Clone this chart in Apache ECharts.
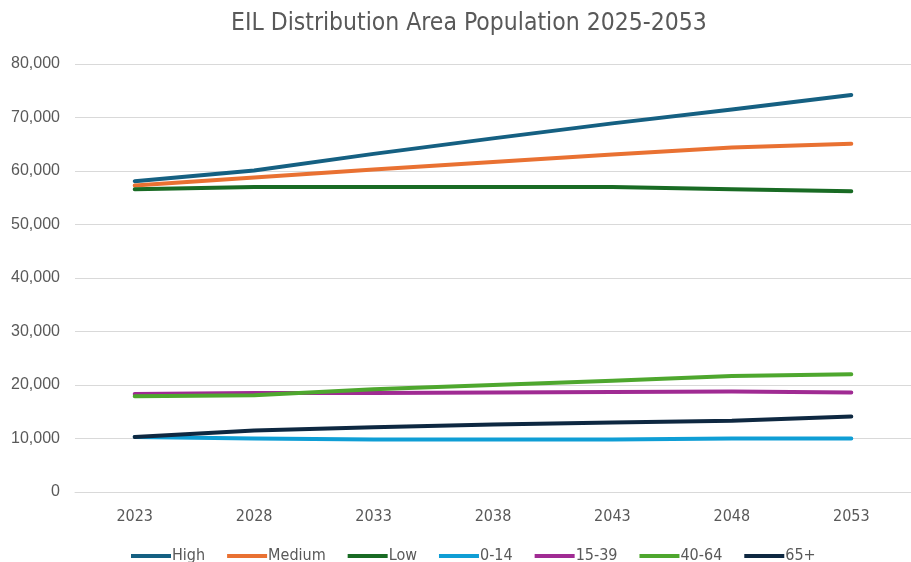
<!DOCTYPE html>
<html>
<head>
<meta charset="utf-8">
<script src="https://cdn.jsdelivr.net/npm/echarts@6/dist/echarts.min.js"></script>
<style>
  html, body { margin: 0; padding: 0; background: #ffffff; }
  #chart { width: 911px; height: 562px; }
</style>
</head>
<body>
<div id="chart"></div>
<script>
// Projection years (category axis)
const years = ['2023', '2028', '2033', '2038', '2043', '2048', '2053'];

// Total population scenarios
const high   = [58100, 60100, 63200, 66100, 68900, 71500, 74200];
const medium = [57300, 58800, 60300, 61700, 63100, 64400, 65100];
const low    = [56600, 57000, 57000, 57000, 57000, 56600, 56200];

// Age bands
const age0to14  = [10300, 10000, 9800, 9800, 9800, 10000, 10000];
const age15to39 = [18300, 18500, 18500, 18600, 18700, 18800, 18600];
const age40to64 = [17900, 18100, 19200, 20000, 20800, 21700, 22000];
const age65plus = [10300, 11500, 12100, 12600, 13000, 13300, 14100];

// Value axis ticks
const yMin = 0, yMax = 80000, yStep = 10000;

const seriesDefs = [
  { name: 'High',   data: high,      color: '#156082' },
  { name: 'Medium', data: medium,    color: '#E97132' },
  { name: 'Low',    data: low,       color: '#196B24' },
  { name: '0-14',   data: age0to14,  color: '#0F9ED5' },
  { name: '15-39',  data: age15to39, color: '#A02B93' },
  { name: '40-64',  data: age40to64, color: '#4EA72E' },
  { name: '65+',    data: age65plus, color: '#0E2841' }
];

const narrow = "'Liberation Sans Narrow', 'DejaVu Sans Condensed', 'Roboto', sans-serif";
const chart = echarts.init(document.getElementById('chart'), null, { renderer: 'canvas' });

chart.setOption({
  animation: false,
  backgroundColor: '#ffffff',
  title: {
    text: 'EIL Distribution Area Population 2025-2053',
    left: 226,
    top: 6,
    textStyle: { fontFamily: narrow, fontSize: 24.5, fontWeight: 'normal', color: '#595959' }
  },
  legend: {
    bottom: -7,
    left: 126,
    itemWidth: 40,
    itemHeight: 4,
    itemGap: 22,
    icon: 'rect',
    textStyle: { fontFamily: narrow, fontSize: 16, color: '#595959', padding: [0, 0, 0, -4] },
    data: seriesDefs.map(s => s.name)
  },
  grid: { left: 75, right: -10, top: 64, bottom: 70 },
  xAxis: {
    type: 'category',
    data: years,
    boundaryGap: true,
    axisLine: { show: true, lineStyle: { color: '#d9d9d9', width: 1 } },
    axisTick: { show: false },
    axisLabel: { fontFamily: narrow, fontSize: 16, color: '#595959', margin: 17 }
  },
  yAxis: {
    type: 'value',
    min: yMin,
    max: yMax,
    interval: yStep,
    axisLine: { show: false },
    axisTick: { show: false },
    splitLine: { lineStyle: { color: '#d9d9d9', width: 1 } },
    axisLabel: {
      fontFamily: "'Liberation Sans', Arial, sans-serif",
      fontSize: 16,
      color: '#595959',
      margin: 15,
      formatter: v => v.toLocaleString('en-US')
    }
  },
  series: seriesDefs.map(s => ({
    name: s.name,
    type: 'line',
    data: s.data,
    symbol: 'none',
    smooth: false,
    lineStyle: { width: 4, color: s.color, cap: 'round', join: 'round' },
    itemStyle: { color: s.color }
  }))
});
</script>
</body>
</html>
